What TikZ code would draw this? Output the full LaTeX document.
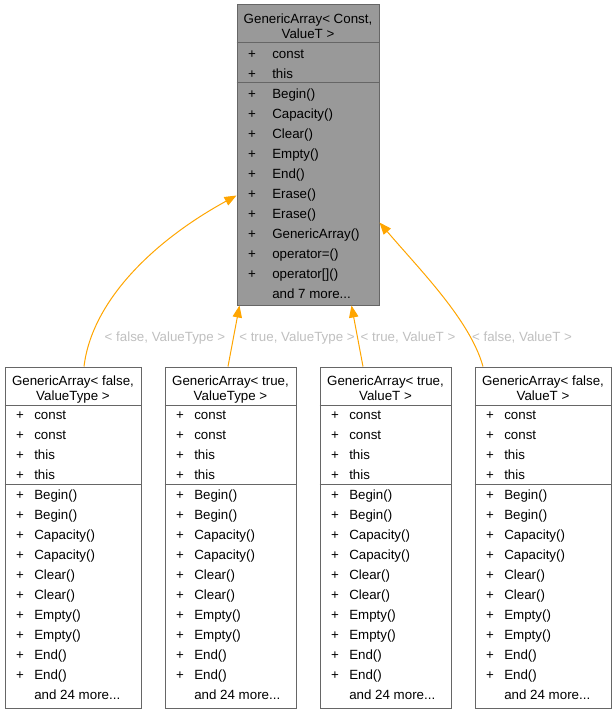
\documentclass[tikz,border=0pt]{standalone}
\usepackage{fontspec}
\setmainfont{Liberation Sans}
\usetikzlibrary{arrows.meta,calc}

\definecolor{edgeorange}{HTML}{FFA500}
\definecolor{boxline}{HTML}{666666}
\definecolor{basefill}{HTML}{999999}
\definecolor{labelgray}{HTML}{BFBFBF}

\tikzset{
  classbox/.style={draw=boxline, line width=0.75pt, inner sep=0pt},
  sepline/.style={draw=boxline, line width=0.75pt},
  txt/.style={anchor=base west, inner sep=0pt},
  ctxt/.style={anchor=base, inner sep=0pt},
  inherit/.style={draw=edgeorange, line width=0.75pt,
    {Triangle[length=9pt,width=7pt]}-},
  tmpl/.style={anchor=base, inner sep=0pt, text=labelgray}
}

\begin{document}
\begin{tikzpicture}[x=0.75pt,y=-0.75pt,font=\fontsize{10}{12}\selectfont]
  \useasboundingbox (0,0) rectangle (616,713);

  % base class
  \node (base) at (308,155) [classbox, fill=basefill, minimum width=106.5pt, minimum height=225pt]{};
  \node (base-t1) at (308,23.5) [ctxt]{GenericArray< Const,};
  \node (base-t2) at (308,38.5) [ctxt]{ValueT >};
  \draw[sepline] (base.west |- 0,43) -- (base.east |- 0,43);
  \draw[sepline] (base.west |- 0,83) -- (base.east |- 0,83);
  \foreach \m [count=\i from 0] in {const,this} {
    \node (base-ap\i) at (252,58.5+20*\i) [ctxt]{+};
    \node (base-a\i) at (272,58.5+20*\i) [txt]{\m};
  }
  \foreach \m [count=\i from 0] in {Begin(),Capacity(),Clear(),Empty(),End(),Erase(),Erase(),GenericArray(),operator=(),operator[]()} {
    \node (base-mp\i) at (252,98.5+20*\i) [ctxt]{+};
    \node (base-m\i) at (272,98.5+20*\i) [txt]{\m};
  }
  \node (base-more) at (272,298.5) [txt]{and 7 more...};

  % derived classes
  \foreach \n/\cx/\hw/\bw/\ta/\tb in {
      d1/73/68/102pt/{GenericArray< false,}/{ValueType >},
      d2/230.5/65.5/98.25pt/{GenericArray< true,}/{ValueType >},
      d3/385.5/65.5/98.25pt/{GenericArray< true,}/{ValueT >},
      d4/543/68/102pt/{GenericArray< false,}/{ValueT >}} {
    \node (\n) at (\cx,537.5) [classbox, fill=white, minimum width=\bw, minimum height=255.75pt]{};
    \node (\n-t1) at (\cx,385.5) [ctxt]{\ta};
    \node (\n-t2) at (\cx,400.5) [ctxt]{\tb};
    \draw[sepline] (\n.west |- 0,405) -- (\n.east |- 0,405);
    \draw[sepline] (\n.west |- 0,484) -- (\n.east |- 0,484);
    \foreach \m [count=\i from 0] in {const,const,this,this} {
      \node (\n-ap\i) at ({\cx-\hw+15},{419.5+20*\i}) [ctxt]{+};
      \node (\n-a\i) at ({\cx-\hw+29},{419.5+20*\i}) [txt]{\m};
    }
    \foreach \m [count=\i from 0] in {Begin(),Begin(),Capacity(),Capacity(),Clear(),Clear(),Empty(),Empty(),End(),End()} {
      \node (\n-mp\i) at ({\cx-\hw+15},{499.5+20*\i}) [ctxt]{+};
      \node (\n-m\i) at ({\cx-\hw+29},{499.5+20*\i}) [txt]{\m};
    }
    \node (\n-more) at ({\cx-\hw+29},699.5) [txt]{and 24 more...};
  }

  % inheritance
  \draw[inherit] ($(base.north west)+(0,191)$) .. controls (155,240) and (92,300) .. ($(d1.north)+(11,0)$);
  \draw[inherit] ($(base.south west)+(3,0)$) -- ($(d2.north)+(-2.5,0)$);
  \draw[inherit] ($(base.south east)+(-28,0)$) -- ($(d3.north)+(-22.5,0)$);
  \draw[inherit] ($(base.north east)+(0,218)$) .. controls (420,270) and (470,320) .. ($(d4.north)+(-60,0)$);

  \node (l1) at (165,341.5) [tmpl]{< false, ValueType >};
  \node (l2) at (297,341.5) [tmpl]{< true, ValueType >};
  \node (l3) at (408,341.5) [tmpl]{< true, ValueT >};
  \node (l4) at (522,341.5) [tmpl]{< false, ValueT >};
\end{tikzpicture}
\end{document}
